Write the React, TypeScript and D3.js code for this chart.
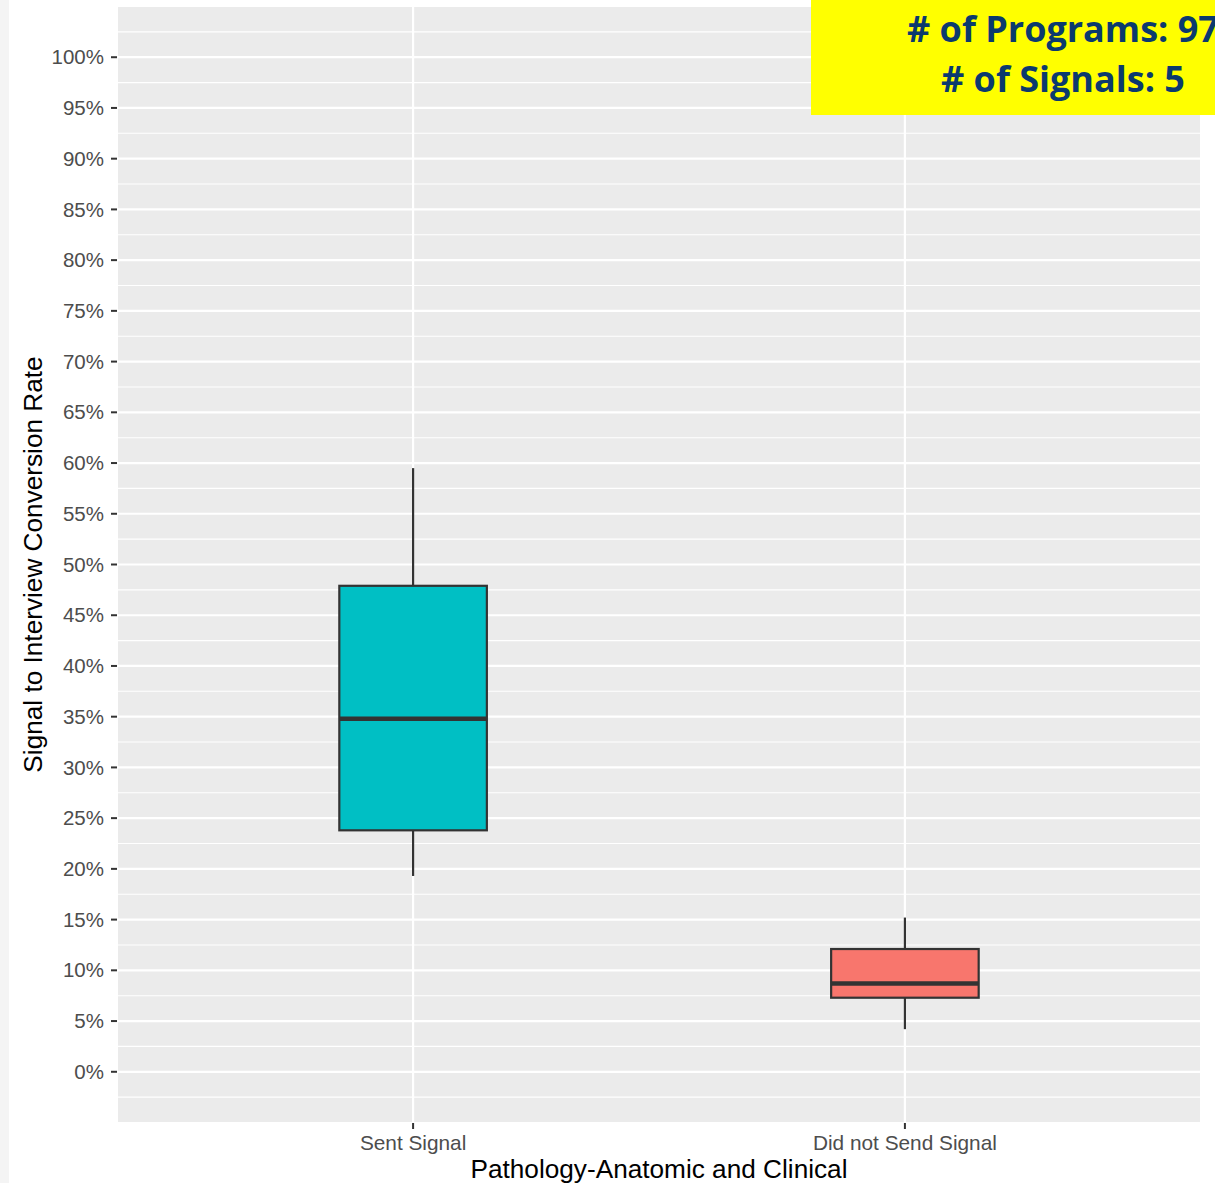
import React from "react";
import * as d3 from "d3";

const categories = ["Sent Signal", "Did not Send Signal"];
const lowerWhisker = [0.193, 0.042];
const q1 = [0.238, 0.073];
const median = [0.348, 0.087];
const q3 = [0.479, 0.121];
const upperWhisker = [0.595, 0.152];
const fills = ["#00BFC4", "#F8766D"];
const yTicks = d3.range(0, 1.0001, 0.05);
const yMinor = d3.range(-0.025, 1.05, 0.05);
const annotation = ["# of Programs: 97", "# of Signals: 5"];

const W = 1215, H = 1183;
const panel = { left: 118, right: 1200, top: 7, bottom: 1122 };

export default function App() {
  const y = d3.scaleLinear().domain([-0.0495, 1.0495]).range([panel.bottom, panel.top]);
  const x = d3.scaleLinear().domain([0.4, 2.6]).range([panel.left, panel.right]);
  const bw = x(1.15) - x(0.85);
  return (
    <svg width={W} height={H} style={{ position: "absolute", left: 0, top: 0, background: "#fff" }}>
      <rect x={0} y={0} width={9} height={H} fill="#f4f4f4" />
      <rect x={panel.left} y={panel.top} width={panel.right - panel.left} height={panel.bottom - panel.top} fill="#EBEBEB" />
      {yMinor.map((t, i) => (
        <line key={"m" + i} x1={panel.left} x2={panel.right} y1={y(t)} y2={y(t)} stroke="#fff" strokeWidth={1.1} />
      ))}
      {yTicks.map((t, i) => (
        <line key={"g" + i} x1={panel.left} x2={panel.right} y1={y(t)} y2={y(t)} stroke="#fff" strokeWidth={2.2} />
      ))}
      {categories.map((c, i) => (
        <line key={"vg" + i} x1={x(i + 1)} x2={x(i + 1)} y1={panel.top} y2={panel.bottom} stroke="#fff" strokeWidth={2.2} />
      ))}
      {categories.map((c, i) => {
        const cx = x(i + 1);
        return (
          <g key={c}>
            <line x1={cx} x2={cx} y1={y(upperWhisker[i])} y2={y(q3[i])} stroke="#333" strokeWidth={2.2} />
            <line x1={cx} x2={cx} y1={y(q1[i])} y2={y(lowerWhisker[i])} stroke="#333" strokeWidth={2.2} />
            <rect x={cx - bw / 2} y={y(q3[i])} width={bw} height={y(q1[i]) - y(q3[i])} fill={fills[i]} stroke="#333" strokeWidth={2.2} />
            <line x1={cx - bw / 2} x2={cx + bw / 2} y1={y(median[i])} y2={y(median[i])} stroke="#333" strokeWidth={4.5} />
          </g>
        );
      })}
      {yTicks.map((t, i) => (
        <g key={"t" + i}>
          <line x1={111} x2={117} y1={y(t)} y2={y(t)} stroke="#333" strokeWidth={2} />
          <text x={104} y={y(t)} dy="0.35em" textAnchor="end" fontFamily="Liberation Sans, Arial, sans-serif" fontSize={20.5} fill="#4D4D4D">
            {d3.format(".0%")(t)}
          </text>
        </g>
      ))}
      {categories.map((c, i) => (
        <g key={"xt" + i}>
          <line x1={x(i + 1)} x2={x(i + 1)} y1={panel.bottom + 1} y2={panel.bottom + 7} stroke="#333" strokeWidth={2} />
          <text x={x(i + 1)} y={1150} textAnchor="middle" fontFamily="Liberation Sans, Arial, sans-serif" fontSize={20.8} fill="#4D4D4D">
            {c}
          </text>
        </g>
      ))}
      <text x={659} y={1178} textAnchor="middle" fontFamily="Liberation Sans, Arial, sans-serif" fontSize={26.2} fill="#000">
        Pathology-Anatomic and Clinical
      </text>
      <text transform={`translate(42, ${(panel.top + panel.bottom) / 2}) rotate(-90)`} textAnchor="middle" fontFamily="Liberation Sans, Arial, sans-serif" fontSize={26.2} fill="#000">
        Signal to Interview Conversion Rate
      </text>
      <rect x={811} y={0} width={W - 811} height={115} fill="#FFFF00" />
      <text x={907} y={42} fontFamily="Open Sans, Noto Sans, sans-serif" fontWeight="bold" fontSize={36} fill="#0B3A6E">
        {annotation[0]}
      </text>
      <text x={941} y={92} fontFamily="Open Sans, Noto Sans, sans-serif" fontWeight="bold" fontSize={36} fill="#0B3A6E">
        {annotation[1]}
      </text>
    </svg>
  );
}
